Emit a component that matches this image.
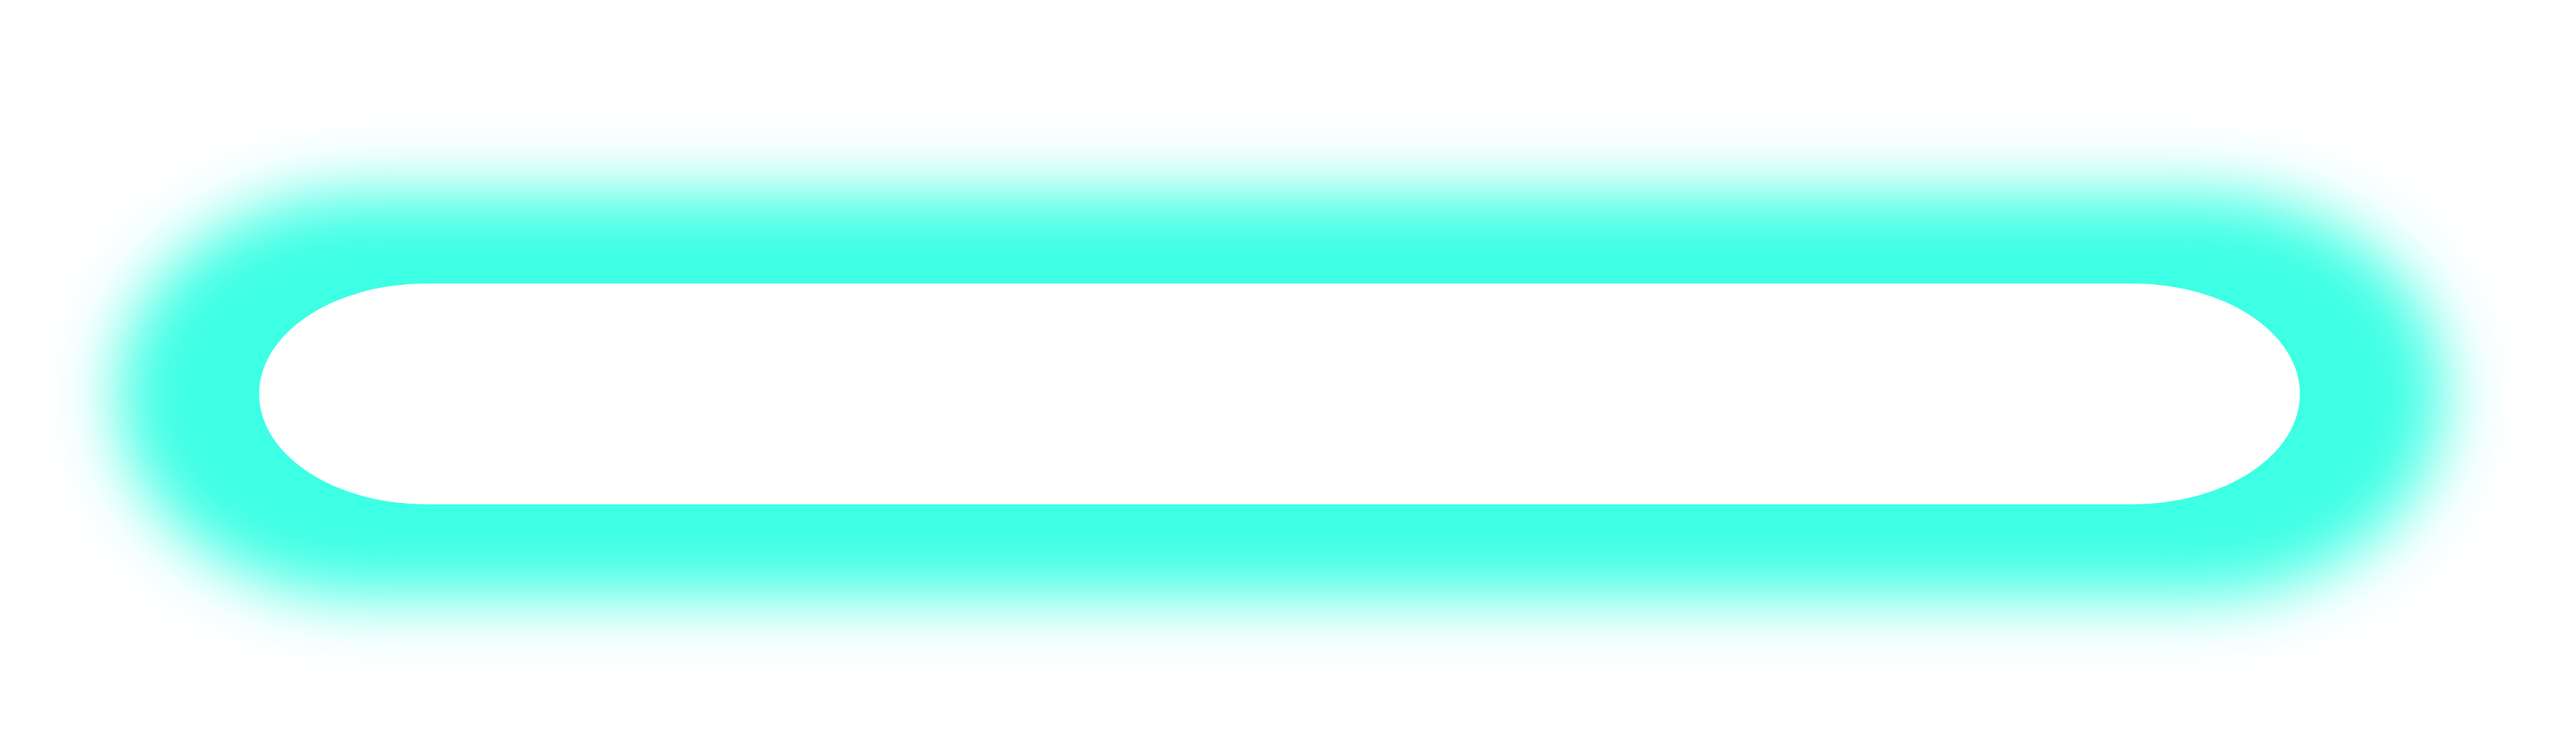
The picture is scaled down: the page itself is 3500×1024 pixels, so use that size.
import React from 'react';

// pill outline: inner opening and glow extent, in chart units
const innerBox = [352, 385, 3125, 685];
const glowBox = [160, 262, 3320, 810];
const glowColor = '#3cffe4';

const pillPath = (b: number[], rx: number) => {
  const [x0, y0, x1, y1] = b;
  const ry = (y1 - y0) / 2;
  return `M${x0 + rx},${y0} L${x1 - rx},${y0} A${rx},${ry} 0 0 1 ${x1 - rx},${y1} L${x0 + rx},${y1} A${rx},${ry} 0 0 1 ${x0 + rx},${y0} Z`;
};

const App: React.FC = () => (
  <svg width={3500} height={1024} style={{ position: 'absolute', left: 0, top: 0 }}>
    <defs>
      <filter id="glow" x="-20%" y="-50%" width="140%" height="200%">
        <feGaussianBlur stdDeviation="44" />
      </filter>
    </defs>
    <rect width={3500} height={1024} fill="#fff" />
    <path d={pillPath(glowBox, 330)} fill={glowColor} filter="url(#glow)" />
    <path d={pillPath(innerBox, 227)} fill="#fff" />
  </svg>
);

export default App;
